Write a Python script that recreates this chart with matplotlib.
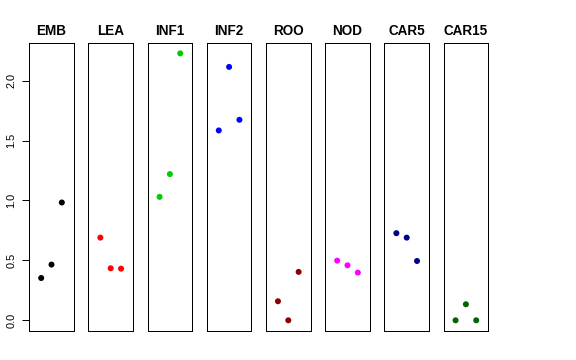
import matplotlib
matplotlib.use("Agg")
import matplotlib.pyplot as plt

plt.rcParams['font.family'] = ['Liberation Sans', 'DejaVu Sans']

groups = ["EMB", "LEA", "INF1", "INF2", "ROO", "NOD", "CAR5", "CAR15"]
colors = ["black", "red", "#00CD00", "blue", "#8B0000", "magenta", "#00008B", "#006400"]
values = [
    [0.353, 0.465, 0.983],
    [0.690, 0.434, 0.431],
    [1.030, 1.220, 2.227],
    [1.584, 2.114, 1.673],
    [0.159, 0.000, 0.404],
    [0.498, 0.459, 0.398],
    [0.727, 0.690, 0.495],
    [0.000, 0.134, 0.000],
]
xpos = [1, 2, 3]
yticks = [0.0, 0.5, 1.0, 1.5, 2.0]

W, H = 576, 360
fig = plt.figure(figsize=(W / 72, H / 72), dpi=72)

ymin = min(min(v) for v in values)
ymax = max(max(v) for v in values)
ext = 0.04 * (ymax - ymin)

left0, step, width = 29.2, 59.2, 44.6
top, bottom = 42.7, 331.0

for i, (name, col, vals) in enumerate(zip(groups, colors, values)):
    ax = fig.add_axes([(left0 + i * step) / W, 1 - bottom / H, width / W, (bottom - top) / H])
    ax.scatter(xpos, vals, s=36, color=col, edgecolors='none', zorder=3)
    ax.set_xlim(-0.16, 4.16)
    ax.set_ylim(ymin - ext, ymax + ext)
    ax.set_xticks([])
    for sp in ax.spines.values():
        sp.set_linewidth(1.0)
        sp.set_color('black')
    ax.set_title(name, fontsize=13.5, fontweight='bold', pad=8)
    if i == 0:
        ax.set_yticks(yticks)
        ax.set_yticklabels(["%.1f" % t for t in yticks], rotation=90, va='center', fontsize=11)
        ax.tick_params(axis='y', length=7, width=1, pad=6)
    else:
        ax.set_yticks([])

fig.savefig("out.png", dpi=72)
